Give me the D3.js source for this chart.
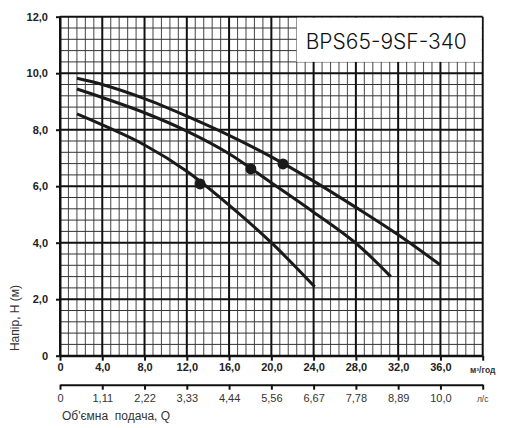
<!DOCTYPE html>
<html>
<head>
  <meta charset="utf-8">
  <title>BPS65-9SF-340</title>
  <style>
    body { margin: 0; background: #fff; }
    text { font-family: "Liberation Sans", Arial, sans-serif; }
  </style>
</head>
<body>
  <svg width="512" height="428"></svg>
  <script src="https://d3js.org/d3.v7.min.js"></script>
  <script>
  // дані графіка
  var flowTicks = [0, 4, 8, 12, 16, 20, 24, 28, 32, 36];
  var flowLabels = ['0', '4,0', '8,0', '12,0', '16,0', '20,0', '24,0', '28,0', '32,0', '36,0'];
  var lpsLabels = ['0', '1,11', '2,22', '3,33', '4,44', '5,56', '6,67', '7,78', '8,89', '10,0'];
  var headTicks = [0, 2, 4, 6, 8, 10, 12];
  var headLabels = ['0', '2,0', '4,0', '6,0', '8,0', '10,0', '12,0'];

  var q1 = [1.6, 4, 8, 12, 16, 20, 24, 28, 32, 36];
  var h1 = [9.82, 9.60, 9.10, 8.48, 7.80, 7.04, 6.18, 5.25, 4.28, 3.21];
  var q2 = [1.6, 4, 8, 12, 16, 20, 24, 28, 31.3];
  var h2 = [9.44, 9.14, 8.60, 7.95, 7.15, 6.12, 5.08, 3.98, 2.80];
  var q3 = [1.6, 4, 8, 12, 16, 20, 24.1];
  var h3 = [8.56, 8.17, 7.46, 6.53, 5.33, 4.0, 2.44];

  var dotQ = [21.1, 18.06, 13.26];
  var dotH = [6.79, 6.61, 6.08];

  var svg = d3.select('svg');
  var x = d3.scaleLinear().domain([0, 40]).range([60, 482.7]);
  var y = d3.scaleLinear().domain([0, 12]).range([355.7, 16.7]);

  // сітка
  var grid = svg.append('g');
  function notMajor(k) { return Math.round(k) % 5 !== 0; }
  var minorX = d3.range(1, 50).map(function(i) { return i * 0.8; }).filter(function(v) { return v < 40 && notMajor(v / 0.8); });
  var minorY = d3.range(1, 30).map(function(i) { return i * 0.4; }).filter(function(v) { return v < 12 && notMajor(v / 0.4); });

  grid.selectAll('.mx').data(minorX).enter().append('line')
    .attr('x1', function(d) { return x(d); }).attr('x2', function(d) { return x(d); })
    .attr('y1', y(0)).attr('y2', y(12))
    .attr('stroke', '#555').attr('stroke-width', 1.1);
  grid.selectAll('.my').data(minorY).enter().append('line')
    .attr('y1', function(d) { return y(d); }).attr('y2', function(d) { return y(d); })
    .attr('x1', x(0)).attr('x2', x(40))
    .attr('stroke', '#333').attr('stroke-width', 1);
  grid.selectAll('.Mx').data(flowTicks.concat([40])).enter().append('line')
    .attr('x1', function(d) { return x(d); }).attr('x2', function(d) { return x(d); })
    .attr('y1', y(0)).attr('y2', y(12))
    .attr('stroke', '#111').attr('stroke-width', 2);
  grid.selectAll('.My').data(headTicks).enter().append('line')
    .attr('y1', function(d) { return y(d); }).attr('y2', function(d) { return y(d); })
    .attr('x1', x(0)).attr('x2', x(40))
    .attr('stroke', '#111').attr('stroke-width', 2);

  // табличка з назвою
  svg.append('rect')
    .attr('x', x(22.4)).attr('y', y(12) + 1)
    .attr('width', x(40) - x(22.4) - 1).attr('height', y(10.4) - y(12) - 1)
    .attr('fill', '#fff');
  svg.append('text')
    .attr('x', x(22.4) + 9).attr('y', 48.5)
    .style('font-family', 'Inter, "Noto Sans", sans-serif')
    .style('font-weight', 300)
    .style('font-size', '21px')
    .attr('fill', '#111')
    .text('BPS65-9SF-340');

  // криві
  var line = d3.line()
    .x(function(d) { return x(d[0]); })
    .y(function(d) { return y(d[1]); })
    .curve(d3.curveCatmullRom.alpha(0.5));
  [[q1, h1], [q2, h2], [q3, h3]].forEach(function(s) {
    svg.append('path')
      .datum(d3.zip(s[0], s[1]))
      .attr('d', line)
      .attr('fill', 'none')
      .attr('stroke', '#1a1a1a')
      .attr('stroke-width', 3);
  });
  svg.selectAll('.dot').data(d3.zip(dotQ, dotH)).enter().append('circle')
    .attr('cx', function(d) { return x(d[0]); })
    .attr('cy', function(d) { return y(d[1]); })
    .attr('r', 5.5)
    .attr('fill', '#1a1a1a');

  // осі
  var xAxis = svg.append('g')
    .attr('transform', 'translate(0,' + y(0) + ')')
    .call(d3.axisBottom(x).tickValues(flowTicks.concat([40]))
      .tickFormat(function(d, i) { return i < flowLabels.length ? flowLabels[i] : ''; })
      .tickSize(5).tickPadding(3).tickSizeOuter(0));
  var yAxis = svg.append('g')
    .attr('transform', 'translate(' + x(0) + ',0)')
    .call(d3.axisLeft(y).tickValues(headTicks)
      .tickFormat(function(d, i) { return headLabels[i]; })
      .tickSize(4).tickPadding(8).tickSizeOuter(0));
  var lpsAxis = svg.append('g')
    .attr('transform', 'translate(0,384.7)')
    .call(d3.axisBottom(x).tickValues(flowTicks.concat([40]))
      .tickFormat(function(d, i) { return i < lpsLabels.length ? lpsLabels[i] : ''; })
      .tickSize(5).tickPadding(5).tickSizeOuter(0));

  [xAxis, yAxis, lpsAxis].forEach(function(a) {
    a.select('.domain').attr('stroke', '#111').attr('stroke-width', 2);
    a.selectAll('.tick line').attr('stroke', '#111').attr('stroke-width', 2);
  });
  xAxis.selectAll('text').style('font-size', '11px').style('font-weight', 'bold').attr('fill', '#222');
  yAxis.selectAll('text').style('font-size', '11px').style('font-weight', 'bold').attr('fill', '#222');
  lpsAxis.selectAll('text').style('font-size', '11px').attr('fill', '#333');

  // рамка
  svg.append('line').attr('x1', x(0)).attr('x2', x(0)).attr('y1', y(0)).attr('y2', y(12))
    .attr('stroke', '#111').attr('stroke-width', 2);

  // підписи
  svg.append('text').attr('x', x(40)).attr('y', 372.5).attr('text-anchor', 'middle')
    .style('font-size', '8.5px').style('font-weight', 'bold').attr('fill', '#333').text('м³/год');
  svg.append('text').attr('x', x(40)).attr('y', 402).attr('text-anchor', 'middle')
    .style('font-size', '8.5px').attr('fill', '#444').text('л/с');
  svg.append('text').attr('x', 62).attr('y', 420)
    .style('font-size', '12px').style('white-space', 'pre').attr('fill', '#333')
    .text('Об\'ємна  подача, Q');
  svg.append('text').attr('transform', 'translate(19,318) rotate(-90)')
    .attr('text-anchor', 'middle')
    .style('font-size', '12px').attr('fill', '#333')
    .text('Напір, Н (м)');
  </script>
</body>
</html>
